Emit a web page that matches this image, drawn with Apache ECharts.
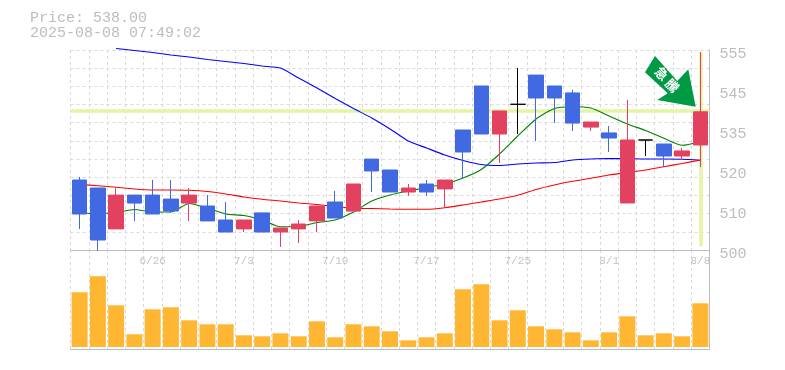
<!DOCTYPE html>
<html><head><meta charset="utf-8">
<style>html,body{margin:0;padding:0;background:#fff}#c{width:785px;height:370px}</style>
<script src="https://cdn.jsdelivr.net/npm/echarts@6/dist/echarts.min.js"></script>
</head><body><div id="c"></div>
<script>
const categories=['6/20','6/23','6/24','6/25','6/26','6/27','6/30','7/1','7/2','7/3','7/4','7/7','7/8','7/9','7/10','7/11','7/14','7/15','7/16','7/17','7/18','7/22','7/23','7/24','7/25','7/28','7/29','7/30','7/31','8/1','8/4','8/5','8/6','8/7','8/8'];
const shownDates=['6/26','7/3','7/10','7/17','7/25','8/1','8/8'];
const open_=[519.25,517.05,505.8,515.1,515.1,514.0,512.9,512.1,508.25,505.8,510.2,504.95,505.8,508,513.2,510.7,525,522,515.95,518.15,516.8,533,545.1,531.9,540.07,548.1,545.1,543.2,533.8,532.2,512.93,530.25,529.15,525.85,528.88];
const close_=[509.9,502.75,515.1,512.9,509.9,510.73,515.1,508,504.95,508.25,504.95,506.05,507.15,512.1,508.8,518.15,521.73,515.95,517.05,515.95,519.25,526.95,531.9,538.23,540.07,541.8,541.8,534.9,535.2,530.8,530.25,530.25,525.85,527.23,538];
const low_=[505.78,499.8,505.8,507.98,509.9,510.18,507.98,508,504.95,504.95,504.95,500.83,501.93,504.95,508.8,510.7,515.95,515.95,514.85,514.85,511.55,519.8,531.9,523.93,531.9,529.98,534.93,532.73,532.73,526.95,512.93,525.85,522.83,524.75,522.8];
const high_=[520.08,517.05,517.05,515.1,519.25,519.25,517.05,515.1,513.2,508.25,510.2,506.05,508.25,512.1,516.23,518.15,525,522,518.15,519.25,519.25,533,545.1,538.23,550.05,548.1,545.1,544,535.2,534.1,541.25,530.25,529.15,528.05,554.4];
const blueLine=[null,null,555.41,554.86,554.31,553.63,553.08,552.39,551.84,551.29,550.6,550.05,547.3,544.55,541.66,538.91,536.3,533.28,529.98,528.05,526.13,524.61,523.51,523.24,523.65,523.93,524.06,524.75,525.03,525.16,525.11,525.03,525.03,524.94,524.67];
const redLine=[518.01,517.68,517.24,516.78,516.5,516.5,516.42,516.09,515.4,514.58,513.94,513.48,512.93,512.51,511.96,511.5,511.41,511.28,511.2,511.2,511.63,512.38,513.2,514.03,515.04,516.64,517.88,518.89,519.72,520.63,521.31,522,522.91,523.79,524.75];
const greenLine=[510.18,510.04,510.31,511.14,510.45,510.45,512.79,511.55,509.9,509.49,508.25,506.41,506.46,507.56,508.25,510.45,513.48,515.13,516.23,517.19,518.15,519.8,522.14,526.4,531.35,536.03,538.91,539.41,539.05,536.85,534.65,532.86,530.72,528.79,529.78];
const volume=[54.7,70.7,41.7,12.7,37.7,39.7,26.7,22.7,22.7,11.7,10.7,13.7,10.7,25.7,9.7,22.7,20.7,15.7,6.7,9.7,13.7,57.7,62.7,26.7,36.7,20.7,17.7,14.7,6.7,14.7,30.7,11.7,13.7,10.7,43.7];
const priceTickValues=[500,511,522,533,544,555];
const priceTickLabels=['500','510','520','535','545','555'];
const lastPrice=538.2;

const RED='#e2425f',BLUE='#4169e1',GREY='#bdbdbd',GRID='#dadada',HL='#e3f5a3',MONO='"Liberation Mono",monospace';
const black={color:'#000',color0:'#000',borderColor:'#000',borderColor0:'#000',borderColorDoji:'#000'};
const candles=categories.map((c,i)=>{
  const v=[open_[i],close_[i],low_[i],high_[i]];
  return open_[i]===close_[i]?{value:v,itemStyle:black}:{value:v};
});
const split={show:true,lineStyle:{color:GRID,type:[3,3],width:1}};
const hlStyle={color:HL,width:3.5,type:'solid',opacity:1};
const chart=echarts.init(document.getElementById('c'),null,{renderer:'canvas'});
chart.setOption({
  animation:false,backgroundColor:'#fff',
  title:[
    {text:'Price: 538.00',left:25,top:6,textStyle:{fontFamily:MONO,fontSize:15,fontWeight:'normal',color:GREY}},
    {text:'2025-08-08 07:49:02',left:25,top:21,textStyle:{fontFamily:MONO,fontSize:15,fontWeight:'normal',color:GREY}}
  ],
  grid:[
    {left:70.5,right:75.5,top:50,height:200},
    {left:70.5,right:75.5,top:250,height:99}
  ],
  xAxis:[
    {type:'category',gridIndex:0,data:categories,boundaryGap:true,
     axisLine:{show:true,onZero:false,lineStyle:{color:GREY}},axisTick:{show:false},
     splitLine:{...split,interval:0},
     axisLabel:{show:true,margin:6,fontFamily:MONO,fontSize:11,color:'#c4c4c4',hideOverlap:false,
       interval:(i,v)=>shownDates.includes(v)}},
    {type:'category',gridIndex:1,data:categories,boundaryGap:true,
     axisLine:{show:true,onZero:false,lineStyle:{color:GREY}},axisTick:{show:false},
     splitLine:{...split,interval:0},axisLabel:{show:false}}
  ],
  yAxis:[
    {type:'value',gridIndex:0,position:'right',min:500,max:555,interval:5,
     axisLine:{show:true,lineStyle:{color:GREY}},axisTick:{show:false},splitLine:split,
     axisLabel:{margin:10,fontFamily:MONO,fontSize:15,color:GREY,customValues:priceTickValues,
       verticalAlign:'top',lineHeight:8,
       formatter:v=>priceTickLabels[priceTickValues.indexOf(v)]}},
    {type:'value',gridIndex:1,position:'right',min:-2,max:97,
     axisLine:{show:true,lineStyle:{color:GREY}},axisTick:{show:false},splitLine:{show:false},axisLabel:{show:false}}
  ],
  series:[
    {name:'blue',type:'line',data:blueLine,xAxisIndex:0,yAxisIndex:0,z:3,clip:false,symbol:'none',smooth:0.2,
     connectNulls:false,lineStyle:{color:'#0000ff',width:1.1},
     markLine:{silent:true,symbol:'none',z:1,label:{show:false},animation:false,
       lineStyle:hlStyle,emphasis:{disabled:true},
       data:[
        [{xAxis:0,yAxis:lastPrice,x:70.5,lineStyle:hlStyle},{xAxis:34,yAxis:lastPrice,x:709.5}],
        [{xAxis:34,yAxis:501,lineStyle:hlStyle},{xAxis:34,yAxis:554.5}]
       ]}},
    {name:'red',type:'line',data:redLine,xAxisIndex:0,yAxisIndex:0,z:3,symbol:'none',smooth:0.2,lineStyle:{color:'#ff0000',width:1.1}},
    {name:'green',type:'line',data:greenLine,xAxisIndex:0,yAxisIndex:0,z:3,symbol:'none',smooth:0.2,lineStyle:{color:'#008000',width:1.1}},
    {name:'price',type:'candlestick',data:candles,xAxisIndex:0,yAxisIndex:0,z:5,clip:false,barWidth:15,
     itemStyle:{color:RED,color0:BLUE,borderColor:RED,borderColor0:BLUE,borderWidth:1}},
    {name:'volume',type:'bar',data:volume,xAxisIndex:1,yAxisIndex:1,barWidth:16,z:4,itemStyle:{color:'#ffb733'}}
  ],
  graphic:[
    {type:'polygon',z:20,shape:{points:[[655,56],[645,72.3],[667.7,93.3],[657.3,100],[695.7,106.7],[688.3,69.3],[677.3,81]]},style:{fill:'#009944'}},
    {type:'text',z:21,x:661.7,y:73.5,rotation:-Math.PI/4,style:{text:'急',fill:'#fff',font:'bold 13px "Noto Sans CJK JP"',align:'center',verticalAlign:'middle'}},
    {type:'text',z:21,x:672.3,y:85.5,rotation:-Math.PI/4,style:{text:'騰',fill:'#fff',font:'bold 13px "Noto Sans CJK JP"',align:'center',verticalAlign:'middle'}}
  ]
});
</script></body></html>
